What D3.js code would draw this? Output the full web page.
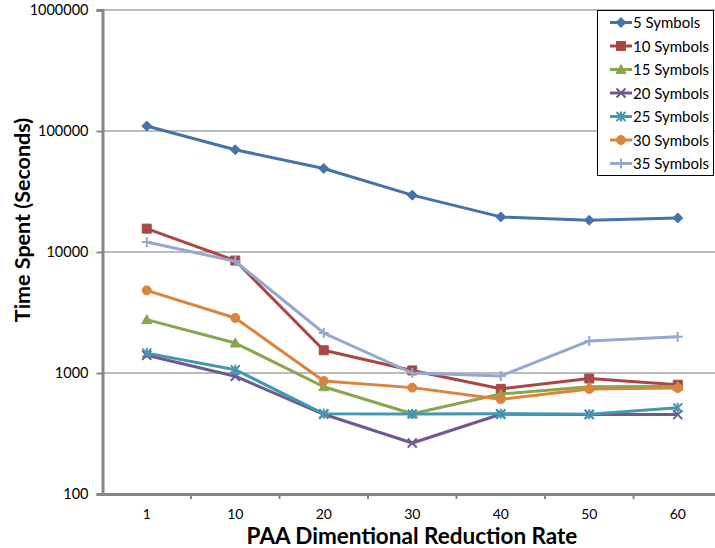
<!DOCTYPE html>
<html>
<head>
<meta charset="utf-8">
<script src="https://cdn.jsdelivr.net/npm/d3@7"></script>
<style>
  body { margin: 0; background: #fff; }
  svg { display: block; font-family: Lato, "Open Sans", sans-serif; }
</style>
</head>
<body>
<div id="chart"></div>
<script>
// categories along the x axis
const rates = ['1', '10', '20', '30', '40', '50', '60'];
const yTicks = [100, 1000, 10000, 100000, 1000000];

// time spent for every symbol count (seconds)
const sym5 = [110000, 70000, 49000, 29500, 19500, 18300, 19100];
const sym10 = [15600, 8500, 1540, 1050, 740, 900, 800];
const sym15 = [2760, 1770, 770, 460, 670, 770, 775];
const sym20 = [1400, 940, 456, 264, 456, 453, 453];
const sym25 = [1460, 1065, 460, 458, 460, 457, 515];
const sym30 = [4820, 2850, 860, 757, 607, 738, 752];
const sym35 = [12100, 8370, 2140, 1000, 945, 1840, 1990];

const seriesNames = ['5 Symbols', '10 Symbols', '15 Symbols', '20 Symbols', '25 Symbols', '30 Symbols', '35 Symbols'];
const seriesValues = [sym5, sym10, sym15, sym20, sym25, sym30, sym35];
const colors = ['#4572A7', '#AA4643', '#89A54E', '#71588F', '#4198AF', '#DB843D', '#93A9CF'];
const markers = ['diamond', 'square', 'triangle', 'x', 'star', 'circle', 'plus'];

const W = 715, H = 548;
const M = { LEFT: 102.5, TOP: 10, RIGHT: 722, BOTTOM: 494 };

const svg = d3.select('#chart').append('svg')
  .attr('width', W).attr('height', H);
svg.append('rect').attr('width', W).attr('height', H).attr('fill', '#fff');

const x = d3.scaleBand().domain(rates).range([M.LEFT, M.RIGHT]);
const y = d3.scaleLog().domain([100, 1000000]).range([M.BOTTOM, M.TOP]);

// gridlines
svg.append('g').selectAll('line').data(yTicks.slice(1)).join('line')
  .attr('x1', M.LEFT).attr('x2', M.RIGHT)
  .attr('y1', d => y(d)).attr('y2', d => y(d))
  .attr('stroke', '#a6a6a6').attr('stroke-width', 1.5);

// y axis
const yAxis = svg.append('g')
  .attr('transform', `translate(${M.LEFT},0)`)
  .call(d3.axisLeft(y).tickValues(yTicks).tickFormat(d3.format('d')).tickSize(6).tickPadding(8));
yAxis.select('.domain').attr('stroke', '#868686').attr('stroke-width', 3);
yAxis.selectAll('.tick line').attr('stroke', '#868686').attr('stroke-width', 2);
yAxis.selectAll('.tick text').attr('font-size', 14.5).attr('fill', '#000')
  .attr('font-family', 'Lato, sans-serif');

// x axis
const xAxis = svg.append('g')
  .attr('transform', `translate(0,${M.BOTTOM})`)
  .call(d3.axisBottom(x).tickSize(0).tickPadding(15));
xAxis.select('.domain').attr('stroke', '#868686').attr('stroke-width', 3);
xAxis.selectAll('.tick text').attr('font-size', 14).attr('fill', '#000')
  .attr('font-family', 'Lato, sans-serif');
xAxis.append('g').selectAll('line').data(rates.slice(1)).join('line')
  .attr('x1', d => x(d)).attr('x2', d => x(d))
  .attr('y1', 0).attr('y2', 5)
  .attr('stroke', '#868686').attr('stroke-width', 2);

// axis titles
svg.append('text')
  .attr('x', 412).attr('y', 544)
  .attr('text-anchor', 'middle')
  .attr('font-weight', 'bold').attr('font-size', 22.5)
  .text('PAA Dimentional Reduction Rate');
svg.append('text')
  .attr('transform', 'translate(30,220) rotate(-90)')
  .attr('text-anchor', 'middle')
  .attr('font-weight', 'bold').attr('font-size', 21.5)
  .text('Time Spent (Seconds)');

function markerPath(type) {
  switch (type) {
    case 'diamond': return 'M0,-5L5,0L0,5L-5,0Z';
    case 'square': return 'M-4.5,-4.5H4.5V4.5H-4.5Z';
    case 'triangle': return 'M0,-5L5,4L-5,4Z';
    case 'circle': return 'M4.5,0A4.5,4.5 0 1 1 -4.5,0A4.5,4.5 0 1 1 4.5,0Z';
    case 'x': return 'M-4.5,-4.5L4.5,4.5M-4.5,4.5L4.5,-4.5';
    case 'star': return 'M-4.5,-4.5L4.5,4.5M-4.5,4.5L4.5,-4.5M0,-5V5';
    case 'plus': return 'M-5,0H5M0,-5V5';
  }
}
function markerStyle(sel, i) {
  const open = ['x', 'star', 'plus'].includes(markers[i]);
  sel.attr('d', markerPath(markers[i]))
    .attr('fill', open ? 'none' : colors[i])
    .attr('stroke', colors[i])
    .attr('stroke-width', open ? 2 : 1);
}

const line = d3.line()
  .x((d, i) => x(rates[i]) + x.bandwidth() / 2)
  .y(d => y(d));

seriesValues.forEach((vals, i) => {
  const g = svg.append('g');
  g.append('path').datum(vals)
    .attr('d', line)
    .attr('fill', 'none')
    .attr('stroke', colors[i])
    .attr('stroke-width', 3)
    .attr('stroke-linejoin', 'round');
  g.selectAll('path.m').data(vals).join('path')
    .attr('class', 'm')
    .attr('transform', (d, j) => `translate(${x(rates[j]) + x.bandwidth() / 2},${y(d)})`)
    .call(markerStyle, i);
});

// legend
const lg = svg.append('g');
lg.append('rect')
  .attr('x', 597.5).attr('y', 10.5).attr('width', 116).attr('height', 165)
  .attr('fill', '#fff').attr('stroke', '#000').attr('stroke-width', 1);
seriesNames.forEach((name, i) => {
  const cy = 22.5 + i * 23.5;
  lg.append('line')
    .attr('x1', 610).attr('x2', 632).attr('y1', cy).attr('y2', cy)
    .attr('stroke', colors[i]).attr('stroke-width', 3);
  lg.append('path')
    .attr('transform', `translate(621,${cy})`)
    .call(markerStyle, i);
  lg.append('text')
    .attr('x', 633).attr('y', cy + 5.5)
    .attr('font-size', 15)
    .text(name);
});
</script>
</body>
</html>
